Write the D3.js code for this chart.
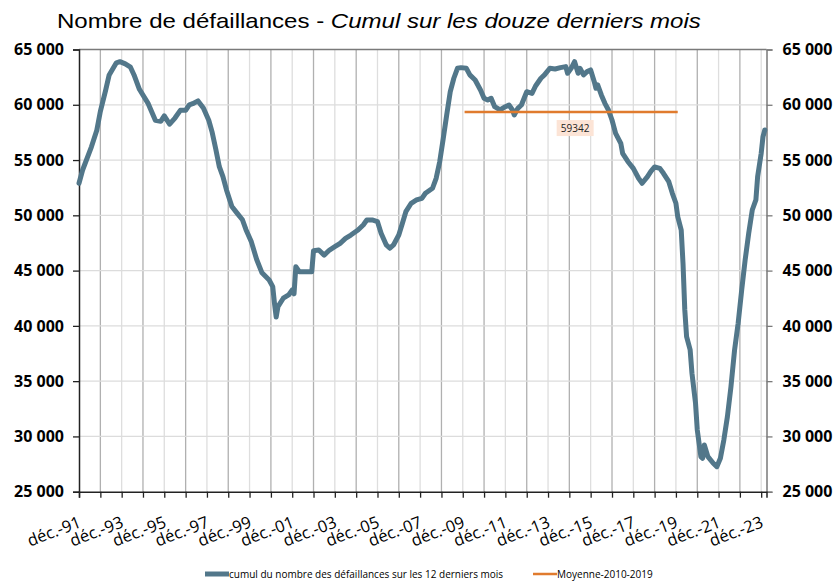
<!DOCTYPE html>
<html>
<head>
<meta charset="utf-8">
<script src="https://cdn.jsdelivr.net/npm/d3@7"></script>
<style>
  body { margin: 0; background: #fff; }
  svg { display: block; }
</style>
</head>
<body>
<div id="chart"></div>
<script>
// cumul sur 12 mois du nombre de défaillances
const months = [
  "1991-12","1992-02","1992-07","1992-10","1992-12","1993-03","1993-05","1993-09","1993-11","1994-02",
  "1994-05","1994-07","1994-10","1995-03","1995-07","1995-10","1995-12","1996-03","1996-06","1996-09",
  "1996-12","1997-02","1997-04","1997-07","1997-10","1998-01","1998-03","1998-05","1998-07","1998-09",
  "1998-11","1999-02","1999-05","1999-08","1999-10","2000-01","2000-04","2000-07","2000-11","2001-01",
  "2001-02","2001-03","2001-04","2001-07","2001-10","2001-12","2002-01","2002-02","2002-04","2002-07",
  "2002-11","2002-12","2003-03","2003-06","2003-09","2003-12","2004-03","2004-06","2004-09","2005-01",
  "2005-04","2005-06","2005-09","2005-12","2006-02","2006-05","2006-07","2006-09","2006-12","2007-02",
  "2007-04","2007-07","2007-10","2008-01","2008-03","2008-07","2008-09","2008-11","2009-01","2009-03",
  "2009-05","2009-07","2009-09","2009-11","2010-02","2010-04","2010-07","2010-10","2010-12","2011-02",
  "2011-04","2011-06","2011-09","2011-12","2012-02","2012-04","2012-05","2012-07","2012-09","2012-12",
  "2013-03","2013-05","2013-08","2013-10","2014-01","2014-04","2014-07","2014-10","2014-11","2015-01",
  "2015-03","2015-05","2015-06","2015-08","2015-10","2015-12","2016-02","2016-03","2016-04","2016-06",
  "2016-08","2016-10","2016-12","2017-02","2017-05","2017-06","2017-09","2017-12","2018-03","2018-05",
  "2018-08","2018-10","2018-12","2019-03","2019-05","2019-08","2019-10","2019-12","2020-01","2020-03",
  "2020-04","2020-05","2020-06","2020-08","2020-09","2020-11","2020-12","2021-02","2021-03","2021-04",
  "2021-06","2021-09","2021-11","2022-01","2022-03","2022-05","2022-07","2022-09","2022-11","2023-01",
  "2023-03","2023-05","2023-07","2023-09","2023-10","2023-12","2024-01","2024-02"
];
const defaillances = [
  52900,54100,56200,57700,59400,61300,62700,63800,63900,63700,
  63400,62700,61400,60100,58600,58500,59000,58250,58800,59500,
  59500,60000,60100,60350,59700,58600,57500,56000,54400,53500,
  52300,50800,50200,49600,48700,47600,46000,44800,44150,43550,
  42000,40800,41750,42500,42800,43250,42900,45350,44900,44900,
  44900,46800,46860,46400,46860,47160,47470,47920,48220,48670,
  49130,49580,49580,49430,48380,47320,47020,47320,48220,49280,
  50330,51090,51390,51540,52000,52450,53350,54850,56970,59080,
  61180,62400,63300,63360,63300,62700,62240,61340,60590,60430,
  60590,59830,59530,59830,59980,59530,59080,59680,59980,61180,
  61030,61700,62400,62700,63300,63240,63360,63450,62850,63300,
  63900,62850,63300,62700,63000,63150,62090,61490,61790,60890,
  60130,59530,58620,57420,56510,55610,54850,54250,53350,52900,
  53500,54000,54370,54250,53800,53040,51990,51090,49880,48670,
  45600,41440,39020,37820,35710,33000,30580,28170,28020,29220,
  28170,27570,27260,28020,29680,31780,34500,37820,40230,43250,
  45960,48370,50480,51390,53500,55610,57120,57720
];

// moyenne 2010-2019
const moyenneMonths = ["2010-01", "2020-01"];
const moyenneValue = 59342;

const yTicks = [25000, 30000, 35000, 40000, 45000, 50000, 55000, 60000, 65000];
const xLabels = ["déc.-91","déc.-93","déc.-95","déc.-97","déc.-99","déc.-01","déc.-03","déc.-05",
  "déc.-07","déc.-09","déc.-11","déc.-13","déc.-15","déc.-17","déc.-19","déc.-21","déc.-23"];

const seriesName = "cumul du nombre des défaillances sur les 12 derniers mois";
const moyenneName = "Moyenne-2010-2019";

const W = 839, H = 582;
const margin = { top: 49.5, right: 72.5, bottom: 90.3, left: 79 };
const width = W - margin.left - margin.right;
const height = H - margin.top - margin.bottom;

const parse = d3.timeParse("%Y-%m");
const data = months.map((m, i) => ({ date: parse(m), value: defaillances[i] }));

const svg = d3.select("#chart").append("svg")
  .attr("width", W).attr("height", H);

const g = svg.append("g")
  .attr("transform", `translate(${margin.left},${margin.top})`);

const x = d3.scaleTime()
  .domain([parse("1991-12"), parse("2024-03")])
  .range([0, width]);

const y = d3.scaleLinear()
  .domain([25000, 65000])
  .range([height, 0]);

const fr = d3.formatLocale({ decimal: ",", thousands: " ", grouping: [3], currency: ["", " €"] });
const fmt = fr.format(",");

// ticks chaque décembre
const tickDates = d3.range(1991, 2024).map(yr => new Date(yr, 11, 1));

// grille verticale
g.append("g")
  .selectAll("line")
  .data(tickDates.slice(1))
  .enter().append("line")
  .attr("x1", d => x(d)).attr("x2", d => x(d))
  .attr("y1", 0).attr("y2", height)
  .attr("stroke", (d, i) => i % 2 === 0 ? "#b0b0b0" : "#dedede")
  .attr("stroke-width", 1.3);

// grille horizontale
g.append("g")
  .selectAll("line")
  .data(yTicks.slice(1))
  .enter().append("line")
  .attr("x1", 0).attr("x2", width)
  .attr("y1", d => y(d)).attr("y2", d => y(d))
  .attr("stroke", d => d === 65000 ? "#7a7a7a" : "#dcdcdc")
  .attr("stroke-width", 1.3);

// axes
const labelFont = "'Open Sans', 'Liberation Sans', sans-serif";

const yLeft = g.append("g")
  .call(d3.axisLeft(y).tickValues(yTicks).tickSize(6).tickPadding(9).tickFormat(fmt));
yLeft.select(".domain").attr("stroke", "#222").attr("stroke-width", 1.5);
yLeft.selectAll(".tick line").attr("stroke", "#222").attr("stroke-width", 1.3);
yLeft.selectAll("text")
  .style("font-family", labelFont).style("font-size", "16px")
  .style("font-weight", "700").attr("fill", "#000");

const yRight = g.append("g")
  .attr("transform", `translate(${width},0)`)
  .call(d3.axisRight(y).tickValues(yTicks).tickSize(6).tickPadding(10).tickFormat(fmt));
yRight.select(".domain").attr("stroke", "#7a7a7a").attr("stroke-width", 1.5);
yRight.selectAll(".tick line").attr("stroke", "#7a7a7a").attr("stroke-width", 1.3);
yRight.selectAll("text")
  .style("font-family", labelFont).style("font-size", "16px")
  .style("font-weight", "700").attr("fill", "#000");

const xAxis = g.append("g")
  .attr("transform", `translate(0,${height})`)
  .call(d3.axisBottom(x).tickValues(tickDates).tickSize(6).tickFormat(""));
xAxis.select(".domain").attr("stroke", "#222").attr("stroke-width", 1.5);
xAxis.selectAll(".tick line").attr("stroke", "#222").attr("stroke-width", 1.3);

g.append("g")
  .selectAll("text")
  .data(xLabels)
  .enter().append("text")
  .attr("transform", (d, i) => `translate(${x(tickDates[i * 2]) + 3},${height + 35}) rotate(-21)`)
  .attr("text-anchor", "end")
  .style("font-family", labelFont)
  .style("font-size", "16.5px")
  .attr("fill", "#000")
  .text(d => d);

// série
const line = d3.line()
  .x(d => x(d.date))
  .y(d => y(d.value));

g.append("path")
  .datum(data)
  .attr("fill", "none")
  .attr("stroke", "#52778a")
  .attr("stroke-width", 5)
  .attr("stroke-linejoin", "round")
  .attr("stroke-linecap", "round")
  .attr("d", line);

// moyenne
const moyData = moyenneMonths.map(m => ({ date: parse(m), value: moyenneValue }));
g.append("path")
  .datum(moyData)
  .attr("fill", "none")
  .attr("stroke", "#e07b2e")
  .attr("stroke-width", 2.5)
  .attr("d", line);

const mx = (x(moyData[0].date) + x(moyData[1].date)) / 2 + 4;
const my = y(moyenneValue) + 16;
g.append("rect")
  .attr("x", mx - 18.5).attr("y", my - 8)
  .attr("width", 37).attr("height", 16)
  .attr("fill", "#fce4d6");
g.append("text")
  .attr("x", mx).attr("y", my)
  .attr("dy", "0.35em")
  .attr("text-anchor", "middle")
  .style("font-family", labelFont)
  .style("font-size", "10px")
  .attr("fill", "#222")
  .text(fmt(moyenneValue).replace(/\s/g, ""));

// titre
const title = svg.append("text")
  .attr("transform", "translate(57,28) scale(1.145,1)")
  .style("font-family", "'Liberation Sans', Arial, sans-serif")
  .style("font-size", "21px")
  .attr("fill", "#000");
title.append("tspan").text("Nombre de défaillances - ");
title.append("tspan").style("font-style", "italic").text("Cumul sur les douze derniers mois");

// légende
const legend = svg.append("g").attr("transform", "translate(0,574)");
legend.append("line")
  .attr("x1", 205).attr("x2", 229).attr("y1", 0).attr("y2", 0)
  .attr("stroke", "#52778a").attr("stroke-width", 5);
legend.append("text")
  .attr("x", 229).attr("y", 0).attr("dy", "0.35em")
  .style("font-family", labelFont).style("font-size", "10px")
  .attr("fill", "#000")
  .text(seriesName);
legend.append("line")
  .attr("x1", 533).attr("x2", 557).attr("y1", 0).attr("y2", 0)
  .attr("stroke", "#e07b2e").attr("stroke-width", 2.5);
legend.append("text")
  .attr("x", 557).attr("y", 0).attr("dy", "0.35em")
  .style("font-family", labelFont).style("font-size", "10px")
  .attr("fill", "#000")
  .text(moyenneName);
</script>
</body>
</html>
